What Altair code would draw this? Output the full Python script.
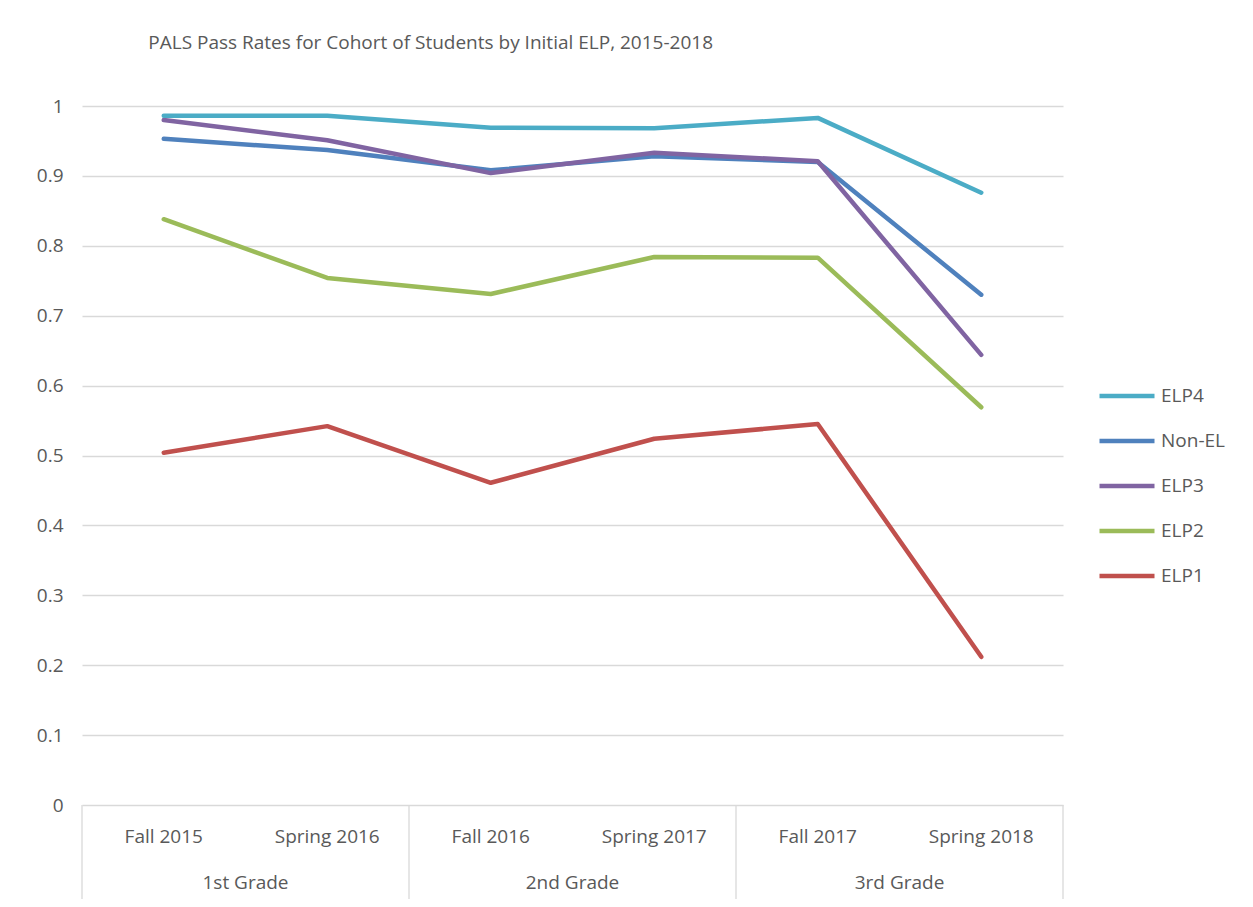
import altair as alt
import pandas as pd

periods = ["Fall 2015", "Spring 2016", "Fall 2016", "Spring 2017", "Fall 2017", "Spring 2018"]
grades = ["1st Grade", "2nd Grade", "3rd Grade"]
series_order = ["ELP4", "Non-EL", "ELP3", "ELP2", "ELP1"]
colors = ["#4BACC6", "#4F81BD", "#8064A2", "#9BBB59", "#C0504D"]

non_el = [0.953, 0.937, 0.908, 0.928, 0.920, 0.730]
elp1 = [0.504, 0.542, 0.461, 0.524, 0.545, 0.212]
elp2 = [0.838, 0.754, 0.731, 0.784, 0.783, 0.569]
elp3 = [0.980, 0.951, 0.904, 0.933, 0.921, 0.644]
elp4 = [0.986, 0.986, 0.969, 0.968, 0.983, 0.876]

values = {"Non-EL": non_el, "ELP1": elp1, "ELP2": elp2, "ELP3": elp3, "ELP4": elp4}

rows = []
for s, vals in values.items():
    for i, (p, v) in enumerate(zip(periods, vals)):
        rows.append({"series": s, "idx": i, "period": p, "rate": v})
df = pd.DataFrame(rows)

period_df = pd.DataFrame({"idx": list(range(len(periods))), "period": periods})
grade_df = pd.DataFrame({"pos": [0.5, 2.5, 4.5], "grade": grades})
sep_df = pd.DataFrame({"pos": [-0.5, 1.5, 3.5, 5.5]})

FONT = "Open Sans"
FS = 19
TXT = "#595959"
W, H = 981, 699

xscale = alt.Scale(domain=[-0.5, 5.5], nice=False, zero=False)

lines = alt.Chart(df).mark_line(strokeWidth=4.5, strokeCap="round", strokeJoin="round").encode(
    x=alt.X("idx:Q", scale=xscale, axis=None),
    y=alt.Y("rate:Q", scale=alt.Scale(domain=[0, 1], nice=False),
            axis=alt.Axis(title=None, tickCount=10, format="~g", domain=False, ticks=False,
                          labelPadding=19, labelFontSize=FS, labelFont=FONT, labelColor=TXT,
                          gridColor="#d9d9d9", gridWidth=1.3)),
    color=alt.Color("series:N", scale=alt.Scale(domain=series_order, range=colors),
                    legend=alt.Legend(title=None, orient="none", legendX=1015, legendY=260,
                                      symbolType="stroke", symbolSize=3025, symbolStrokeWidth=4.5,
                                      labelFont=FONT, labelFontSize=FS, labelColor=TXT,
                                      rowPadding=5, labelOffset=4)),
)

period_text = alt.Chart(period_df).mark_text(font=FONT, fontSize=FS, color=TXT, baseline="middle").encode(
    x=alt.X("idx:Q", scale=xscale, axis=None), y=alt.value(H + 32), text="period:N")

grade_text = alt.Chart(grade_df).mark_text(font=FONT, fontSize=FS, color=TXT, baseline="middle").encode(
    x=alt.X("pos:Q", scale=xscale, axis=None), y=alt.value(H + 78), text="grade:N")

seps = alt.Chart(sep_df).mark_rule(color="#d9d9d9", strokeWidth=1.3).encode(
    x=alt.X("pos:Q", scale=xscale, axis=None), y=alt.value(H), y2=alt.value(H + 100))

chart = alt.layer(seps, lines, period_text, grade_text).properties(
    width=W, height=H,
    title=alt.TitleParams("PALS Pass Rates for Cohort of Students by Initial ELP, 2015-2018",
                          anchor="start", dx=112, offset=44, fontSize=FS, font=FONT,
                          fontWeight="normal", color=TXT),
    autosize=alt.AutoSizeParams(type="none"),
    padding={"left": 74, "top": 98, "right": 182, "bottom": 94},
).configure_view(strokeOpacity=0)

chart.save("out.html", embed_options={"renderer": "svg", "actions": False})
